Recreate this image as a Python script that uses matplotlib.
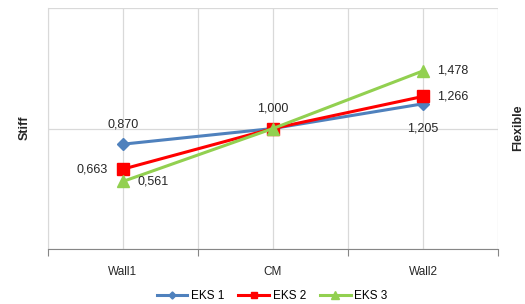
import matplotlib.pyplot as plt

plt.rcParams["font.family"] = ["Liberation Sans", "DejaVu Sans"]

categories = ["Wall1", "CM", "Wall2"]
eks1 = [0.870, 1.000, 1.205]
eks2 = [0.663, 1.000, 1.266]
eks3 = [0.561, 1.000, 1.478]
labels1 = ["0,870", "", "1,205"]
labels2 = ["0,663", "1,000", "1,266"]
labels3 = ["0,561", "", "1,478"]

fig = plt.figure(figsize=(5.25, 3.04), dpi=100)
ax = fig.add_axes([48 / 525, 55 / 304, 450 / 525, 241 / 304])

x = list(range(len(categories)))
ax.plot(x, eks1, color="#4F81BD", lw=2.2, marker="D", ms=6, label="EKS 1", zorder=3)
ax.plot(x, eks2, color="#FF0000", lw=2.2, marker="s", ms=8, label="EKS 2", zorder=4)
ax.plot(x, eks3, color="#92D050", lw=2.2, marker="^", ms=9, label="EKS 3", zorder=5)

fs = 9
tc = "#262626"
# (series values, labels, offsets in pixels, horizontal alignment)
ann = [
    (eks1, labels1, [(0, 20), None, (0, -25)], ["center", None, "center"]),
    (eks2, labels2, [(-15, 0), (0, 20), (14, 0)], ["right", "center", "left"]),
    (eks3, labels3, [(14, 0), None, (14, 0)], ["left", None, "left"]),
]
for vals, labs, offs, has in ann:
    for i, (v, lab) in enumerate(zip(vals, labs)):
        if not lab:
            continue
        ax.annotate(lab, (i, v), xytext=offs[i], textcoords="offset pixels",
                    ha=has[i], va="center", fontsize=fs, color=tc, zorder=6)

ax.set_xlim(-0.5, 2.5)
ax.set_ylim(0, 2)
ax.set_xticks([-0.5, 0.5, 1.5, 2.5])
ax.set_xticklabels([])
ax.set_xticks(x, minor=True)
ax.set_xticklabels(categories, minor=True, fontsize=8.5, color=tc)
ax.tick_params(axis="x", which="major", length=5, color="#868686", direction="out")
ax.tick_params(axis="x", which="minor", length=0, pad=12)
ax.set_yticks([0, 1, 2])
ax.set_yticklabels([])
ax.tick_params(axis="y", length=0)
ax.grid(True, which="both", axis="x", color="#D9D9D9", lw=0.9)
ax.grid(True, which="major", axis="y", color="#D9D9D9", lw=0.9)
ax.set_axisbelow(True)
for s in ["top", "right"]:
    ax.spines[s].set_visible(False)
ax.spines["left"].set_color("#D9D9D9")
ax.spines["bottom"].set_color("#868686")

fig.text(25 / 525, 1 - 128 / 304, "Stiff", rotation=90, ha="center", va="center",
         fontsize=9, fontweight="bold", color=tc)
fig.text(518 / 525, 1 - 128 / 304, "Flexible", rotation=90, ha="center", va="center",
         fontsize=9, fontweight="bold", color=tc)

fig.legend(loc="center", bbox_to_anchor=(272 / 525, 1 - 296 / 304), ncol=3,
           frameon=False, fontsize=8.5, handlelength=2.6, columnspacing=1.2,
           handletextpad=0.3, markerscale=0.6)

fig.savefig("out.png", dpi=100)
